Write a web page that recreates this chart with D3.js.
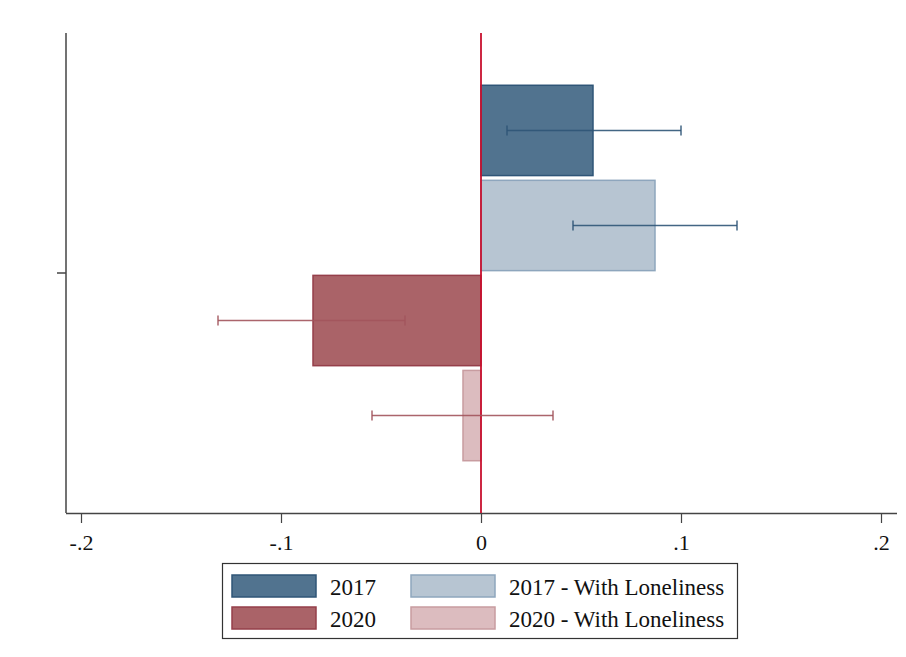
<!DOCTYPE html>
<html>
<head>
<meta charset="utf-8">
<script src="https://cdn.jsdelivr.net/npm/d3@7"></script>
<style>
  body { margin: 0; background: #fff; }
  text { font-family: "Liberation Serif", "Times New Roman", serif; }
</style>
</head>
<body>
<script>
// series, point estimates and confidence intervals
var series = ["2017", "2017 - With Loneliness", "2020", "2020 - With Loneliness"];
var estimates = [0.056, 0.087, -0.084, -0.009];
var ciLow = [0.013, 0.046, -0.1315, -0.0545];
var ciHigh = [0.100, 0.128, -0.038, 0.036];
var fills = ["#51738f", "#b7c5d2", "#aa6368", "#dcbcbf"];
var strokes = ["#2f5577", "#8ea6bd", "#953f4a", "#c89ca0"];
var ciColors = ["#2f5577", "#2f5577", "#a2545c", "#a2545c"];
var xTicks = [-0.2, -0.1, 0, 0.1, 0.2];
var xTickLabels = ["-.2", "-.1", "0", ".1", ".2"];

var data = series.map(function (s, i) {
    return {name: s, est: estimates[i], lo: ciLow[i], hi: ciHigh[i],
            fill: fills[i], stroke: strokes[i], ci: ciColors[i]};
});

var svg = d3.select("body").append("svg").attr("width", 906).attr("height", 657),
    margin = {top: 33, right: 11, bottom: 144, left: 66},
    width = +svg.attr("width") - margin.left - margin.right,
    height = +svg.attr("height") - margin.top - margin.bottom;

var x = d3.scaleLinear().domain([-0.2075, 0.207]).range([0, width]);
var y = d3.scaleBand().domain(series).range([0, height])
    .paddingInner(0.05).paddingOuter(0.55);

var g = svg.append("g")
    .attr("transform", "translate(" + margin.left + "," + margin.top + ")");

// x axis
var xAxis = g.append("g")
    .attr("transform", "translate(0," + height + ")")
    .call(d3.axisBottom(x).tickValues(xTicks).tickSize(10).tickPadding(11)
        .tickFormat(function (d, i) { return xTickLabels[i]; }));
xAxis.select(".domain").attr("stroke", "#444").attr("stroke-width", 1.5)
    .attr("d", "M0,0.5H" + (width + 2));
xAxis.selectAll(".tick line").attr("stroke", "#444").attr("stroke-width", 1.2);
xAxis.selectAll(".tick text").attr("font-size", 22).attr("fill", "#111")
    .style("font-family", "'Liberation Serif', serif");

// y axis: one category tick in the middle
var yAxis = g.append("g");
yAxis.append("line").attr("x1", 0).attr("x2", 0).attr("y1", 0).attr("y2", height)
    .attr("stroke", "#444").attr("stroke-width", 1.5);
yAxis.append("line").attr("x1", -9).attr("x2", 0)
    .attr("y1", (y(series[0]) + y(series[3]) + y.bandwidth()) / 2)
    .attr("y2", (y(series[0]) + y(series[3]) + y.bandwidth()) / 2)
    .attr("stroke", "#444").attr("stroke-width", 1.5);

// bars
g.selectAll(".bar")
    .data(data)
    .enter().append("rect")
    .attr("class", "bar")
    .attr("x", function (d) { return x(Math.min(0, d.est)); })
    .attr("width", function (d) { return Math.abs(x(d.est) - x(0)); })
    .attr("y", function (d) { return y(d.name); })
    .attr("height", y.bandwidth())
    .attr("fill", function (d) { return d.fill; })
    .attr("stroke", function (d) { return d.stroke; })
    .attr("stroke-width", 1.5);

// zero reference line
g.append("line")
    .attr("x1", x(0)).attr("x2", x(0)).attr("y1", 0).attr("y2", height)
    .attr("stroke", "#c8102e").attr("stroke-width", 1.8);

// confidence intervals
var ci = g.selectAll(".ci")
    .data(data)
    .enter().append("g")
    .attr("class", "ci")
    .attr("transform", function (d) {
        return "translate(0," + (y(d.name) + y.bandwidth() / 2) + ")";
    })
    .attr("stroke", function (d) { return d.ci; })
    .attr("stroke-width", 1.5)
    .attr("stroke-opacity", 0.9);

ci.append("line")
    .attr("x1", function (d) { return x(d.lo); })
    .attr("x2", function (d) { return x(d.hi); });
ci.append("line")
    .attr("x1", function (d) { return x(d.lo); })
    .attr("x2", function (d) { return x(d.lo); })
    .attr("y1", -5).attr("y2", 5);
ci.append("line")
    .attr("x1", function (d) { return x(d.hi); })
    .attr("x2", function (d) { return x(d.hi); })
    .attr("y1", -5).attr("y2", 5);

// legend
var legend = svg.append("g").attr("transform", "translate(222,563)");
legend.append("rect")
    .attr("x", 0.5).attr("y", 0.5).attr("width", 515).attr("height", 75)
    .attr("fill", "#fff").attr("stroke", "#333").attr("stroke-width", 1.2);

var items = legend.selectAll(".item")
    .data(data)
    .enter().append("g")
    .attr("class", "item")
    .attr("transform", function (d, i) {
        return "translate(" + (i % 2 === 0 ? 10 : 189) + "," + (i < 2 ? 12 : 44) + ")";
    });
items.append("rect")
    .attr("width", 84).attr("height", 22)
    .attr("fill", function (d) { return d.fill; })
    .attr("stroke", function (d) { return d.stroke; })
    .attr("stroke-width", 1.5);
items.append("text")
    .attr("x", 98).attr("y", 20)
    .attr("font-size", 23).attr("fill", "#111")
    .text(function (d) { return d.name; });
</script>
</body>
</html>
